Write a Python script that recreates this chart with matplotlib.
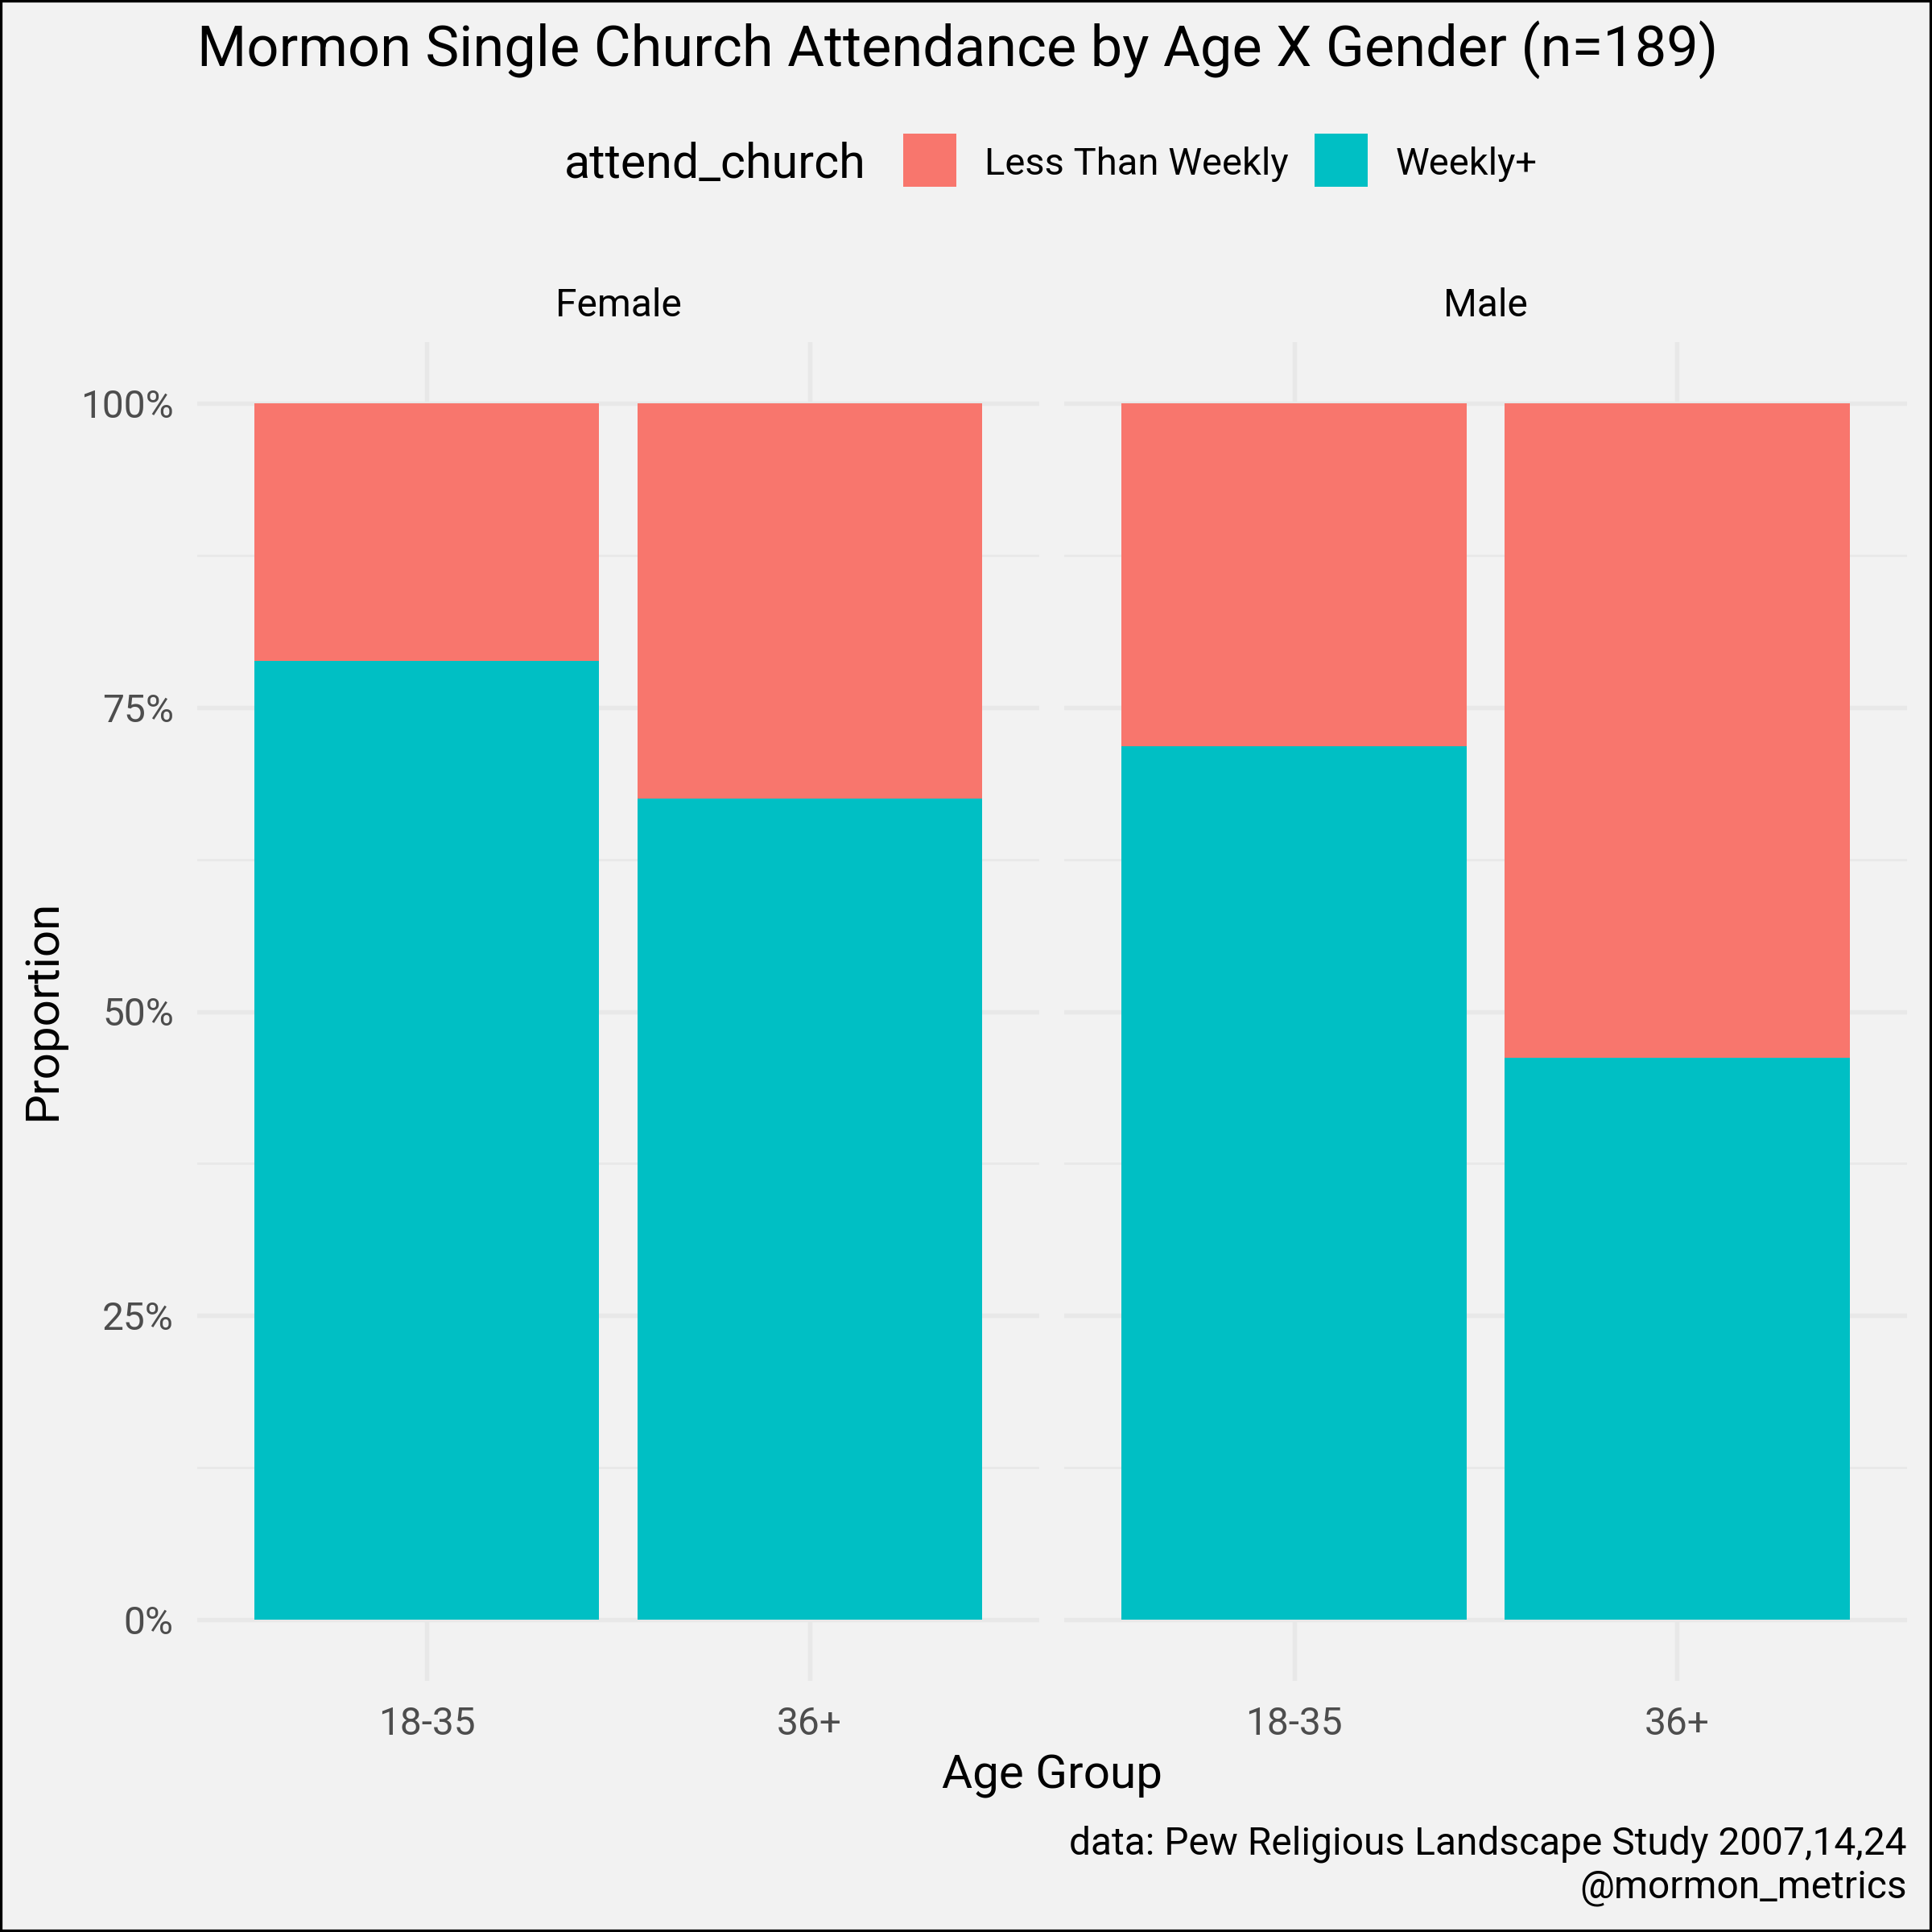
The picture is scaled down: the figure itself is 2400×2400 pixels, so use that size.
import matplotlib
matplotlib.use("Agg")
import matplotlib.pyplot as plt
from matplotlib.patches import Rectangle
import numpy as np

# ---------------- data ----------------
age_groups = ["18-35", "36+"]
genders = ["Female", "Male"]
series_names = ["Less Than Weekly", "Weekly+"]
female_weekly = [0.788, 0.675]
female_less = [0.212, 0.325]
male_weekly = [0.718, 0.462]
male_less = [0.282, 0.538]
y_ticks = [0, 0.25, 0.5, 0.75, 1.0]
y_tick_labels = ["0%", "25%", "50%", "75%", "100%"]

title = "Mormon Single Church Attendance by Age X Gender (n=189)"
legend_title = "attend_church"
x_label = "Age Group"
y_label = "Proportion"
caption = ["data: Pew Religious Landscape Study 2007,14,24", "@mormon_metrics"]

# ---------------- style ----------------
BG = "#F2F2F2"
GRID = "#E8E8E8"
PINK = "#F8766D"
TEAL = "#00BFC4"
TICK_COL = "#4D4D4D"
colors = [PINK, TEAL]

plt.rcParams['font.family'] = ['Roboto', 'DejaVu Sans']

W = H = 2400
DPI = 300
fig = plt.figure(figsize=(W / DPI, H / DPI), dpi=DPI, facecolor=BG)


def fx(px):
    return px / W


def fy(py):
    return 1 - py / H


panel_px = [(245, 1291), (1322, 2369)]
top, bottom = 425, 2088
data = {"Female": (female_weekly, female_less), "Male": (male_weekly, male_less)}

for i, (gender, (l, r)) in enumerate(zip(genders, panel_px)):
    ax = fig.add_axes([fx(l), fy(bottom), (r - l) / W, (bottom - top) / H])
    ax.set_facecolor(BG)
    weekly, less = data[gender]
    x = np.arange(len(age_groups))
    ax.bar(x, weekly, width=0.9, color=colors[1], zorder=2, linewidth=0)
    ax.bar(x, less, bottom=weekly, width=0.9, color=colors[0], zorder=2, linewidth=0)
    ax.set_xlim(-0.6, len(age_groups) - 0.4)
    ax.set_ylim(-0.05, 1.05)
    ax.set_xticks(x)
    ax.set_xticklabels(age_groups, fontsize=11.5, color=TICK_COL)
    ax.set_yticks(y_ticks)
    ax.set_yticks([0.125, 0.375, 0.625, 0.875], minor=True)
    if i == 0:
        ax.set_yticklabels(y_tick_labels, fontsize=11.5, color=TICK_COL)
    else:
        ax.set_yticklabels([])
    ax.tick_params(axis='both', which='both', length=0)
    ax.tick_params(axis='y', pad=7)
    ax.tick_params(axis='x', pad=7.5)
    ax.grid(True, which='major', color=GRID, linewidth=1.3, zorder=0)
    ax.grid(True, which='minor', axis='y', color=GRID, linewidth=0.65, zorder=0)
    ax.set_axisbelow(True)
    for s in ax.spines.values():
        s.set_visible(False)
    fig.text(fx((l + r) / 2), fy(393), gender, ha='center', va='baseline',
             fontsize=11.5, color='black')

# title
fig.text(fx(245), fy(82), title, ha='left', va='baseline', fontsize=16.9, color='black')

# legend
fig.text(fx(701), fy(221), legend_title, ha='left', va='baseline', fontsize=14.2, color='black')
key_x = [1122, 1633]
label_x = [1223, 1734]
for name, c, kx, lx in zip(series_names, colors, key_x, label_x):
    fig.patches.append(Rectangle((fx(kx), fy(232)), 66 / W, 66 / H, transform=fig.transFigure,
                                 facecolor=c, edgecolor='none'))
    fig.text(fx(lx), fy(217), name, ha='left', va='baseline', fontsize=11.3, color='black')

# axis titles
fig.text(fx(1307), fy(2222), x_label, ha='center', va='baseline', fontsize=14, color='black')
fig.text(fx(54), fy(1255), y_label, ha='center', va='center', rotation=90, fontsize=14, color='black')

# caption
fig.text(fx(2369), fy(2303), caption[0], ha='right', va='baseline', fontsize=11.5, color='black')
fig.text(fx(2369), fy(2357), caption[1], ha='right', va='baseline', fontsize=11.5, color='black')

# border
fig.patches.append(Rectangle((0, 0), 1, 1, transform=fig.transFigure, facecolor='none',
                             edgecolor='black', linewidth=1.5, clip_on=False))

fig.savefig("out.png", dpi=DPI, facecolor=BG)
